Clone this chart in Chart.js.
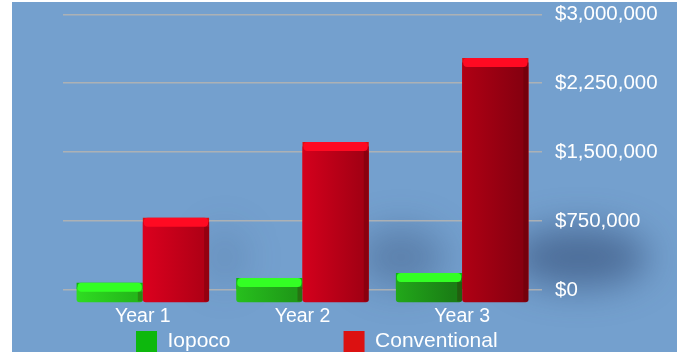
<!DOCTYPE html>
<html lang="en">
<head>
  <meta charset="UTF-8">
  <title>Iopoco vs Conventional</title>
  <script src="https://cdn.jsdelivr.net/npm/chart.js@4.4.1/dist/chart.umd.min.js"></script>
  <style>
    html, body { margin: 0; padding: 0; background: #ffffff; }
    #wrap {
      position: absolute; left: 12px; top: 2px;
      width: 665px; height: 350px;
      background: #74a0ce;
    }
  </style>
</head>
<body>
  <div id="wrap"><canvas id="mychart"></canvas></div>

  <script>
    // chart data
    const years = ['Year 1', 'Year 2', 'Year 3'];
    const iopoco = [80000, 130000, 185000];
    const conventional = [785000, 1610000, 2525000];
    const yTicks = [0, 750000, 1500000, 2250000, 3000000];

    // shading for the fake 3d bars
    const shades = [
      { front: ['#2fdc22', '#27c01d', '#22a81a'], frontDark: ['#24b81a', '#1f9a18', '#1a7e15'], top: '#33ff24' },
      { front: ['#dc001e', '#d4001c', '#b00014'], frontDark: ['#b20016', '#a50014', '#880010'], top: '#ff0a22' }
    ];

    const FONT = '"Liberation Sans", Arial, Helvetica, sans-serif';
    const depth = 13;   // bar fronts sit a bit below the floor line
    const topH = 9;     // thickness of the top face

    const shadowPlugin = {
      id: 'barShadow',
      beforeDraw(chart) {
        const ctx = chart.ctx;
        const meta = chart.getDatasetMeta(1);
        ctx.save();
        ctx.filter = 'blur(18px)';
        meta.data.forEach((bar) => {
          const p = bar.getProps(['x', 'y', 'base', 'width'], true);
          const h = p.base - p.y;
          const right = p.x + p.width / 2;
          ctx.fillStyle = 'rgba(35,55,95,' + Math.min(0.5, h / 470).toFixed(2) + ')';
          ctx.beginPath();
          ctx.ellipse(right + h * 0.22, p.base - 32, h * 0.3, 30, 0, 0, Math.PI * 2);
          ctx.fill();
        });
        ctx.restore();
      }
    };

    const bars3d = {
      id: 'bars3d',
      afterDatasetsDraw(chart) {
        const ctx = chart.ctx;
        chart.data.datasets.forEach((ds, di) => {
          const meta = chart.getDatasetMeta(di);
          const sh = shades[di];
          meta.data.forEach((bar, i) => {
            const p = bar.getProps(['x', 'y', 'base', 'width'], true);
            const left = p.x - p.width / 2;
            const w = p.width;
            const bottom = p.base + depth;
            ctx.save();
            // front face
            const g = ctx.createLinearGradient(left, 0, left + w, 0);
            g.addColorStop(0, sh.front[i]);
            g.addColorStop(0.85, sh.frontDark[i]);
            g.addColorStop(1, sh.frontDark[i]);
            ctx.fillStyle = g;
            ctx.beginPath();
            ctx.roundRect(left, p.y + topH / 2, w, bottom - p.y - topH / 2, [0, 0, 3, 3]);
            ctx.fill();
            // right edge a bit darker
            ctx.fillStyle = 'rgba(60,0,0,0.25)';
            ctx.fillRect(left + w - 5, p.y + topH, 5, bottom - p.y - topH - 1);
            // top face
            ctx.fillStyle = sh.top;
            ctx.beginPath();
            ctx.roundRect(left + 1, p.y, w - 2, topH, 4);
            ctx.fill();
            ctx.restore();
          });
        });
      }
    };

    // legend: wide gap between the two entries, placed like the original
    const legendPlace = {
      id: 'legendPlace',
      afterLayout(chart) {
        const lg = chart.legend;
        if (!lg || !lg.lineWidths) return;
        const pad = lg.options.labels.padding;
        const start = (lg.left + pad + lg.right - lg.lineWidths[0]) / 2;
        const dx = 124 - start;
        lg.left += dx;
        lg.right += dx;
        lg.top = 329 - pad;
      }
    };

    const data = {
      labels: years,
      datasets: [
        { label: 'Iopoco', data: iopoco, backgroundColor: '#0db80d', borderWidth: 0 },
        { label: 'Conventional', data: conventional, backgroundColor: '#dc1111', borderWidth: 0 }
      ]
    };

    const config = {
      type: 'bar',
      data: data,
      plugins: [shadowPlugin, bars3d, legendPlace],
      options: {
        responsive: true,
        maintainAspectRatio: false,
        animation: false,
        layout: { padding: { left: 51, right: 16, top: 0, bottom: 0 } },
        datasets: {
          bar: { categoryPercentage: 0.83, barPercentage: 1.0 }
        },
        scales: {
          x: {
            grid: { display: false, drawTicks: false },
            border: { display: false },
            ticks: { color: '#ffffff', font: { family: FONT, size: 19.5 }, padding: 15 },
            afterFit: (scale) => { scale.height = 38; }
          },
          y: {
            position: 'right',
            min: 0,
            max: 3000000,
            afterBuildTicks: (scale) => {
              scale.ticks = yTicks.map((v) => ({ value: v }));
            },
            afterFit: (scale) => { scale.width = 119; },
            grid: { color: 'rgba(178,178,178,0.9)', lineWidth: 1.5, tickLength: 13, tickColor: 'rgba(0,0,0,0)' },
            border: { display: false },
            ticks: {
              color: '#ffffff',
              font: { family: FONT, size: 20.5 },
              padding: 0,
              callback: (v) => '$' + Number(v).toLocaleString('en-US')
            }
          }
        },
        plugins: {
          tooltip: { enabled: false },
          legend: {
            position: 'bottom',
            maxHeight: 24,
            labels: {
              color: '#ffffff',
              font: { family: FONT, size: 21 },
              boxWidth: 21,
              boxHeight: 21,
              padding: 113
            }
          }
        }
      }
    };

    new Chart(document.getElementById('mychart'), config);
  </script>
</body>
</html>
